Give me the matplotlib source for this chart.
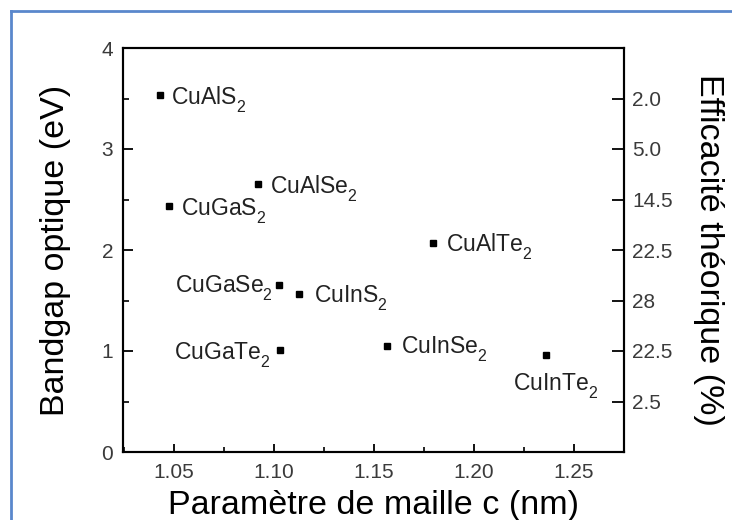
import matplotlib
matplotlib.use("Agg")
import matplotlib.pyplot as plt
from matplotlib.lines import Line2D
from matplotlib.ticker import MultipleLocator

plt.rcParams['font.family'] = ['Liberation Sans', 'DejaVu Sans']
plt.rcParams['mathtext.fontset'] = 'custom'
plt.rcParams['mathtext.rm'] = 'Liberation Sans'
plt.rcParams['mathtext.it'] = 'Liberation Sans'
plt.rcParams['mathtext.default'] = 'regular'
# lower subscripts a bit more (as in the original figure)
try:
    import matplotlib._mathtext as _mt
    _mt.FontConstantsBase.sub1 = 0.62
except Exception:
    pass

# ---- data ----
compounds = ["CuAlS$_2$", "CuGaS$_2$", "CuAlSe$_2$", "CuAlTe$_2$", "CuGaSe$_2$",
             "CuInS$_2$", "CuGaTe$_2$", "CuInSe$_2$", "CuInTe$_2$"]
lattice_c = [1.0432, 1.0474, 1.0918, 1.1795, 1.1024, 1.1123, 1.1032, 1.1565, 1.236]
bandgap = [3.53, 2.44, 2.65, 2.07, 1.656, 1.56, 1.005, 1.05, 0.96]
x_ticks = [1.05, 1.10, 1.15, 1.20, 1.25]
x_tick_labels = ["1.05", "1.10", "1.15", "1.20", "1.25"]
y_ticks = [0, 1, 2, 3, 4]
right_ticks = [3.5, 3.0, 2.5, 2.0, 1.5, 1.0, 0.5]
right_tick_labels = ["2.0", "5.0", "14.5", "22.5", "28", "22.5", "2.5"]

# label offsets (points, baseline) and alignment per compound
label_offsets = [(7.9, -6.7), (8.6, -7.2), (8.6, -6.7), (9.4, -6.8), (-4.0, -6.0),
                 (10.8, -6.0), (-7.2, -6.5), (10.0, -5.8), (-23.8, -26.0)]
label_ha = ["left", "left", "left", "left", "right", "left", "right", "left", "left"]

fig = plt.figure(figsize=(7.32, 5.2), dpi=100)
ax = fig.add_axes([123/732, 1-452/520, (624-123)/732, (452-48)/520])

ax.plot(lattice_c, bandgap, linestyle='none', marker='s', markersize=5,
        color='black')

for name, xv, yv, off, ha in zip(compounds, lattice_c, bandgap, label_offsets, label_ha):
    ax.annotate(name, (xv, yv), xytext=off, textcoords='offset points',
                ha=ha, va='baseline', fontsize=16.5, color='#222222')

ax.set_xlim(1.0245, 1.275)
ax.set_ylim(0, 4)
ax.set_xticks(x_ticks)
ax.set_xticklabels(x_tick_labels)
ax.set_yticks(y_ticks)
ax.xaxis.set_minor_locator(MultipleLocator(0.025))
ax.yaxis.set_minor_locator(MultipleLocator(0.5))

for s in ax.spines.values():
    s.set_linewidth(1.5)

ax.tick_params(axis='both', which='major', direction='in', width=1.3,
               labelsize=15, labelcolor='#3a3a3a')
ax.tick_params(axis='x', which='major', length=6, pad=8)
ax.tick_params(axis='x', which='minor', direction='in', length=3.5, width=1.2)
ax.tick_params(axis='y', which='major', length=7, pad=7)
ax.tick_params(axis='y', which='minor', direction='in', length=4, width=1.2)

ax.set_xlabel("Paramètre de maille c (nm)", fontsize=24.5, labelpad=6)
ax.set_ylabel("Bandgap optique (eV)", fontsize=24.5, labelpad=22)

ax2 = ax.twinx()
ax2.set_ylim(ax.get_ylim())
ax2.set_yticks(right_ticks)
ax2.set_yticklabels(right_tick_labels)
ax2.tick_params(axis='y', direction='in', length=8.5, width=1.3, pad=6,
                labelsize=15, labelcolor='#3a3a3a')
ax2.set_ylabel("Efficacité théorique (%)", fontsize=24.5, rotation=270,
               labelpad=37)
for s in ax2.spines.values():
    s.set_linewidth(1.5)

# blue frame of the original screenshot
blue = '#5a87cc'
fig.add_artist(Line2D([11/732, 11/732], [0, 1-11/520], transform=fig.transFigure,
                      color=blue, linewidth=2))
fig.add_artist(Line2D([11/732, 1], [1-11/520, 1-11/520], transform=fig.transFigure,
                      color=blue, linewidth=2))

fig.savefig("out.png", dpi=100)
